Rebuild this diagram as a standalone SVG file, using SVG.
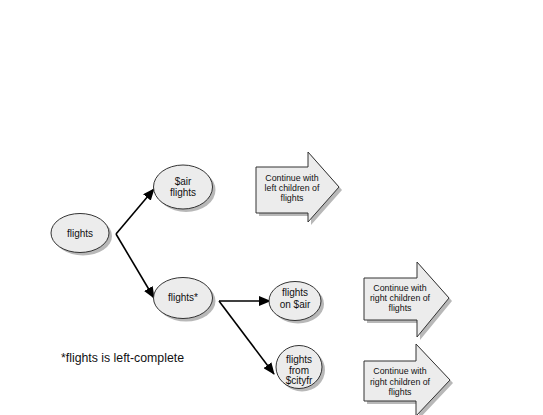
<svg xmlns="http://www.w3.org/2000/svg" width="543" height="415" viewBox="0 0 543 415">
<style>
.sh{fill:#b8b8b8;stroke:none}
.nd{fill:#ececec;stroke:#333;stroke-width:1}
.t{font-family:"Liberation Sans",Arial,sans-serif;font-size:10px;fill:#111;text-anchor:middle}
.ta{font-family:"Liberation Sans",Arial,sans-serif;font-size:8.8px;fill:#111;text-anchor:middle}
.c{stroke:#000;stroke-width:1.6;fill:none}
</style>
<defs>
<marker id="ah" viewBox="0 0 12 10" refX="11" refY="5" markerWidth="12" markerHeight="10" orient="auto" markerUnits="userSpaceOnUse">
<path d="M0,0 L12,5 L0,10 z" fill="#000"/>
</marker>
</defs>
<rect width="543" height="415" fill="#fff"/>
<g id="connectors">
<path class="c" d="M116,234 L154,189" marker-end="url(#ah)"/>
<path class="c" d="M116,234 L154,298" marker-end="url(#ah)"/>
<path class="c" d="M219,301 L270,301" marker-end="url(#ah)"/>
<path class="c" d="M219,301 L274,374" marker-end="url(#ah)"/>
</g>
<g id="n-flights">
<ellipse class="sh" cx="83" cy="236" rx="29" ry="19.5"/>
<ellipse class="nd" cx="80" cy="233" rx="29" ry="19.5"/>
<text class="t" x="80" y="236.5">flights</text>
</g>
<g id="n-air">
<ellipse class="sh" cx="186" cy="190" rx="29.5" ry="22"/>
<ellipse class="nd" cx="183" cy="187" rx="29.5" ry="22"/>
<text class="t" x="183" y="185">$air</text>
<text class="t" x="183" y="196">flights</text>
</g>
<g id="n-flightsstar">
<ellipse class="sh" cx="186" cy="301" rx="29.5" ry="20.5"/>
<ellipse class="nd" cx="183" cy="298" rx="29.5" ry="20.5"/>
<text class="t" x="183" y="301">flights*</text>
</g>
<g id="n-on-air">
<ellipse class="sh" cx="298" cy="304" rx="26" ry="19.5"/>
<ellipse class="nd" cx="295" cy="301" rx="26" ry="19.5"/>
<text class="t" x="295" y="296">flights</text>
<text class="t" x="295" y="308">on $air</text>
</g>
<g id="n-from-city">
<ellipse class="sh" cx="302" cy="370" rx="23" ry="21.5"/>
<ellipse class="nd" cx="299" cy="367" rx="23" ry="21.5"/>
<text class="t" x="299" y="363">flights</text>
<text class="t" x="299" y="373.5">from</text>
<text class="t" x="299" y="384">$cityfr</text>
</g>
<g id="a-left">
<path class="sh" d="M259,170 H311 V155 L342,190 L311,225 V216 H259 z"/>
<path class="nd" d="M256,167 H308 V152 L339,187 L308,222 V213 H256 z"/>
<text class="ta" x="292" y="181">Continue with</text>
<text class="ta" x="292" y="191">left children of</text>
<text class="ta" x="292" y="201">flights</text>
</g>
<g id="a-right1">
<path class="sh" d="M367,281 H420 V265 L452,301 L420,340 V323 H367 z"/>
<path class="nd" d="M364,278 H417 V262 L449,298 L417,337 V320 H364 z"/>
<text class="ta" x="400" y="291">Continue with</text>
<text class="ta" x="400" y="301">right children of</text>
<text class="ta" x="400" y="311">flights</text>
</g>
<g id="a-right2">
<path class="sh" d="M367,364 H419 V347 L453,383 L419,419 V404 H367 z"/>
<path class="nd" d="M364,361 H416 V344 L450,380 L416,416 V401 H364 z"/>
<text class="ta" x="400" y="374">Continue with</text>
<text class="ta" x="400" y="385">right children of</text>
<text class="ta" x="400" y="395">flights</text>
</g>
<g id="note">
<text x="61" y="362" font-family="'Liberation Sans',Arial,sans-serif" font-size="12.3" fill="#111">*flights is left-complete</text>
</g>
</svg>
